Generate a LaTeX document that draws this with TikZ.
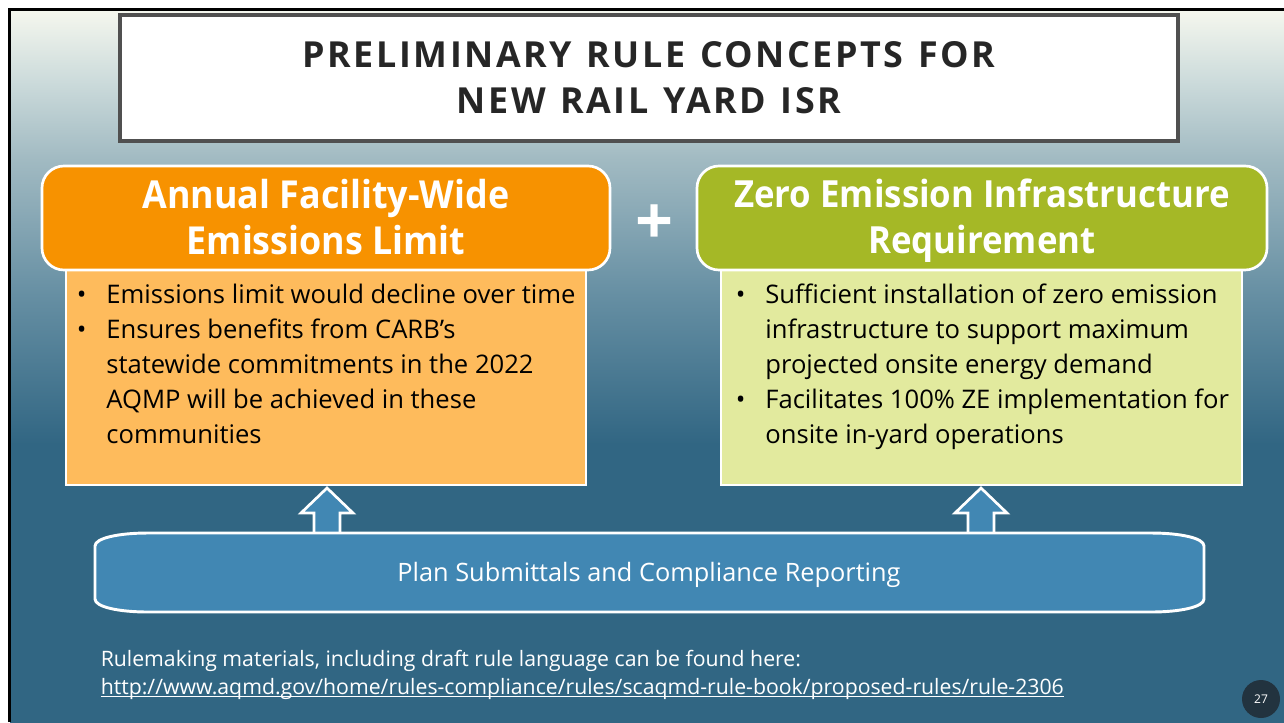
\documentclass[tikz,border=0pt]{standalone}
\usepackage{fontspec}
\setmainfont{Open Sans}
\newfontfamily\titlefont[LetterSpace=7,WordSpace=1.25,BoldFont={Open Sans Bold}]{Open Sans}
\newfontfamily\headfont[FakeStretch=0.93,BoldFont={Open Sans Bold}]{Open Sans}
\definecolor{orangehead}{HTML}{F79200}
\definecolor{orangebody}{HTML}{FEBB5C}
\definecolor{greenhead}{HTML}{A5B826}
\definecolor{greenbody}{HTML}{E2EA9E}
\definecolor{planblue}{HTML}{4187B3}
\definecolor{deepblue}{HTML}{316683}
\definecolor{titleedge}{HTML}{505050}
\definecolor{titleink}{HTML}{262626}
\definecolor{badge}{HTML}{22333F}
\definecolor{bgA}{HTML}{668FA3}
\definecolor{bgB}{HTML}{A1BAC2}
\definecolor{bgC}{HTML}{CCDBDB}
\definecolor{bgD}{HTML}{F5F7EE}
\pgfdeclareverticalshading{slidebg}{100bp}{
 color(0bp)=(deepblue);
 color(44.5bp)=(deepblue);
 color(55bp)=(bgA);
 color(64.5bp)=(bgB);
 color(70bp)=(bgC);
 color(75bp)=(bgD);
 color(100bp)=(bgD)}
\tikzset{
 x=0.75pt,y=-0.75pt,
 headbox/.style={draw=white,line width=2pt,rounded corners=16.5pt},
 bodybox/.style={draw=white,line width=1.7pt},
 blockarrow/.style={draw=white,line width=2pt,fill=planblue,line join=miter},
 headtext/.style={text=white,align=center,inner sep=0pt},
 bodytext/.style={font=\fontsize{19.2}{26.25}\selectfont,text=black,align=left,inner sep=0pt,anchor=north west},
 foottext/.style={font=\fontsize{15.93}{21}\selectfont,text=white,align=left,inner sep=0pt,anchor=north west},
}
\newcommand{\blt}{\makebox[22.2pt][l]{•}}
\newcommand{\ind}{\hspace*{22.2pt}}
\newcommand{\lowline}[1]{\setbox0\hbox{#1}\rlap{\rule[-2.2pt]{\wd0}{0.75pt}}\box0}
\begin{document}
\begin{tikzpicture}
\useasboundingbox (0,0) rectangle (1284,722);
\fill[white] (0,0) rectangle (1284,722);
\shade[shading=slidebg] (10,10) rectangle (1284,722);
\draw[black,line width=1.6pt] (9.5,722) -- (9.5,9.5) -- (1284,9.5);
% title
\node[draw=titleedge,line width=2.4pt,fill=white,minimum width=793.5pt,minimum height=94.5pt,anchor=center,
  font=\titlefont\bfseries\fontsize{26.9}{34.5}\selectfont,text=titleink,align=center,inner sep=0pt]
  (title) at (649,78) {PRELIMINARY RULE CONCEPTS FOR\\NEW RAIL YARD ISR};
% body boxes
\node[bodybox,fill=orangebody,minimum width=390pt,minimum height=162pt,inner sep=0pt] (leftbody) at (326,377) {};
\node[bodybox,fill=greenbody,minimum width=390.75pt,minimum height=162pt,inner sep=0pt] (rightbody) at (981.5,377) {};
% headers
\node[headbox,fill=orangehead,minimum width=426pt,minimum height=78pt,inner sep=0pt] (lefthead) at (326,218) {};
\node[headbox,fill=greenhead,minimum width=427.5pt,minimum height=78pt,inner sep=0pt] (righthead) at (982,218) {};
\node[headtext,font=\headfont\bfseries\fontsize{28.9}{34.5}\selectfont] (lefttitle) at (326,221) {Annual Facility-Wide\\Emissions Limit\vphantom{q}};
\node[headtext,font=\headfont\bfseries\fontsize{28.05}{34.5}\selectfont] (righttitle) at (982,221) {Zero Emission Infrastructure\\Requirement};
\node[font=\bfseries\fontsize{50}{50}\selectfont,text=white,inner sep=0pt] (plus) at (655,225) {+};
% body text
\node[bodytext] (lefttext) at (76.5,284) {\blt Emissions limit would decline over time\\
\blt Ensures benefits from CARB’s\\
\ind statewide commitments in the 2022\\
\ind AQMP will be achieved in these\\
\ind communities};
\node[bodytext] (righttext) at (735.5,284) {\blt Sufficient installation of zero emission\\
\ind infrastructure to support maximum\\
\ind projected onsite energy demand\\
\blt Facilitates 100\% ZE implementation for\\
\ind onsite in-yard operations};
% arrows
\draw[blockarrow] (314,534) -- (314,513) -- (301,513) -- (327,488) -- (353,513) -- (340,513) -- (340,534);
\draw[blockarrow] (968,534) -- (968,513) -- (955,513) -- (981,488) -- (1007,513) -- (994,513) -- (994,534);
% plan box
\draw[draw=white,line width=2.2pt,fill=planblue]
  (148,533) -- (1151,533) .. controls (1180,533) and (1204,538) .. (1204,546)
  -- (1204,599) .. controls (1204,607) and (1180,612) .. (1151,612)
  -- (148,612) .. controls (119,612) and (95,607) .. (95,599)
  -- (95,546) .. controls (95,538) and (119,533) .. (148,533) -- cycle;
\node[font=\fontsize{19}{24}\selectfont,text=white,inner sep=0pt] (plan) at (649,575) {Plan Submittals and Compliance Reporting};
% footer
\node[foottext] (foot) at (100.5,649.5) {Rulemaking materials, including draft rule language can be found here:\\
\lowline{http://www.aqmd.gov/home/rules-compliance/rules/scaqmd-rule-book/proposed-rules/rule-2306}};
\node[circle,fill=badge,minimum size=28.5pt,inner sep=0pt,text=white,font=\fontsize{9}{11}\selectfont] (page) at (1261,699) {27};
\end{tikzpicture}
\end{document}
